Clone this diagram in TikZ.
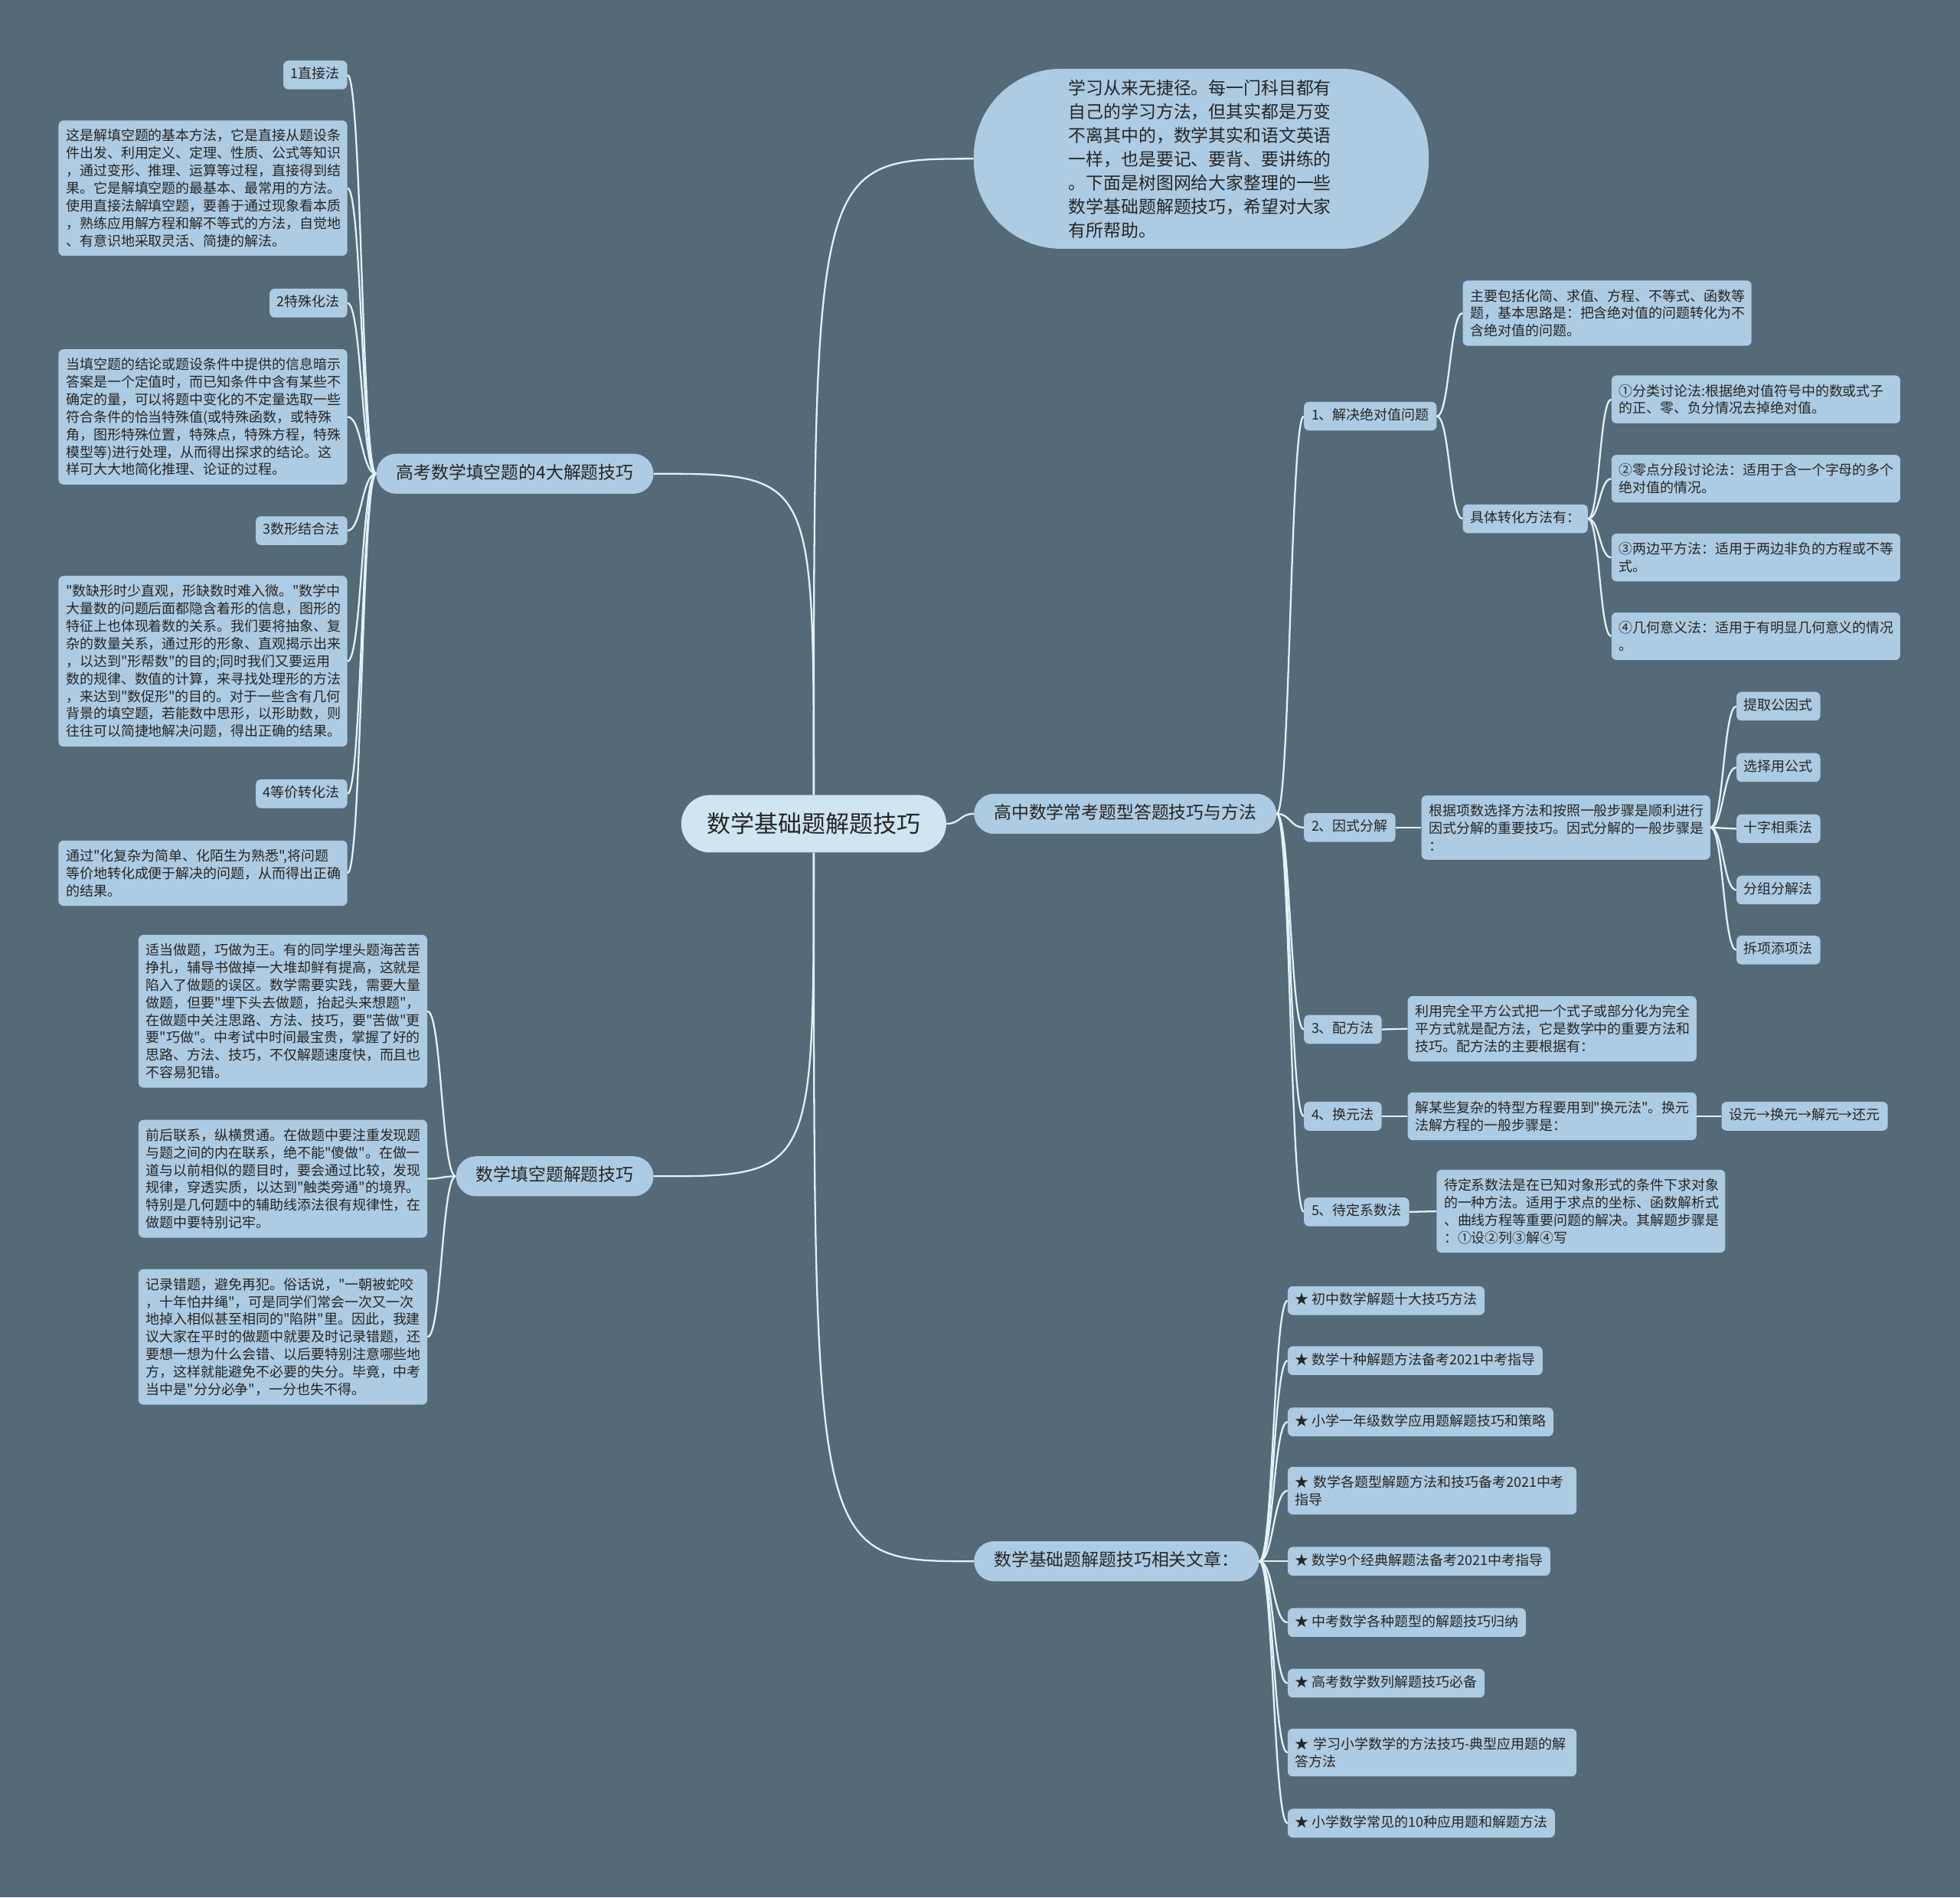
\documentclass[tikz,border=0pt]{standalone}
\usepackage{fontspec}
\setmainfont{Noto Sans CJK SC}[Ligatures=TeXOff]
\usetikzlibrary{calc}

\definecolor{bgcol}{HTML}{546A79}
\definecolor{boxcol}{HTML}{ADCBE2}
\definecolor{rootcol}{HTML}{CFE5F2}
\definecolor{linecol}{HTML}{E3F1F8}
\definecolor{txtcol}{HTML}{262626}

\newcommand{\sfs}{\fontsize{11}{14}\selectfont}
\newcommand{\mfs}{\fontsize{14}{19}\selectfont}
% curved connectors
\newcommand{\branch}[2]{\draw[link] (#1) .. controls ($(#1)!0.5!(#1 -| #2)$) and ($(#2)!0.5!(#2 -| #1)$) .. (#2);}
\newcommand{\stem}[2]{\draw[link] (#1) .. controls (#1 |- #2) and (#1 |- #2) .. (#2);}

\begin{document}
\begin{tikzpicture}[x=1pt, y=-1pt,
    link/.style={draw=linecol, line width=1.4pt},
    rootnode/.style={fill=rootcol, text=txtcol, rounded corners=23pt, minimum width=212pt, minimum height=46pt, font=\fontsize{19}{23}\selectfont},
    bubble/.style={fill=boxcol, text=txtcol, rounded corners=70pt, minimum width=364pt, minimum height=144pt, text width=212pt, align=left, font=\mfs},
    topic/.style={fill=boxcol, text=txtcol, rounded corners=16pt, minimum height=32pt, inner xsep=16pt, text height=11pt, text depth=3pt, font=\mfs},
    leaf/.style={fill=boxcol, text=txtcol, rounded corners=4pt, inner xsep=6pt, inner ysep=6pt, text height=8.5pt, text depth=2.5pt, font=\sfs},
    note/.style={fill=boxcol, text=txtcol, rounded corners=4pt, inner xsep=6pt, inner ysep=7pt, text width=219pt, align=left, font=\sfs}]

    \fill[bgcol] (0,0) rectangle (1568,1518);
    \useasboundingbox (0,0) rectangle (1568,1518);

    \node[rootnode] (root) at (651,659) {数学基础题解题技巧};

    \node[bubble] (intro) at (961,127) {学习从来无捷径。每一门科目都有\\自己的学习方法，但其实都是万变\\不离其中的，数学其实和语文英语\\一样，也是要记、要背、要讲练的\\。下面是树图网给大家整理的一些\\数学基础题解题技巧，希望对大家\\有所帮助。};

    \node[topic, anchor=west] (hs) at (779,651) {高中数学常考题型答题技巧与方法};
    \node[topic, anchor=east] (gk) at (523,379) {高考数学填空题的4大解题技巧};
    \node[topic, anchor=east] (tk) at (523,941) {数学填空题解题技巧};
    \node[topic, anchor=west] (rel) at (779,1249) {数学基础题解题技巧相关文章：};

    % left, upper
    \node[leaf, anchor=east] (m1) at (278,60) {1直接法};
    \node[note, anchor=east] (d1) at (278,150.5) {这是解填空题的基本方法，它是直接从题设条\\件出发、利用定义、定理、性质、公式等知识\\，通过变形、推理、运算等过程，直接得到结\\果。它是解填空题的最基本、最常用的方法。\\使用直接法解填空题，要善于通过现象看本质\\，熟练应用解方程和解不等式的方法，自觉地\\、有意识地采取灵活、简捷的解法。};
    \node[leaf, anchor=east] (m2) at (278,242.5) {2特殊化法};
    \node[note, anchor=east] (d2) at (278,333.5) {当填空题的结论或题设条件中提供的信息暗示\\答案是一个定值时，而已知条件中含有某些不\\确定的量，可以将题中变化的不定量选取一些\\符合条件的恰当特殊值(或特殊函数，或特殊\\角，图形特殊位置，特殊点，特殊方程，特殊\\模型等)进行处理，从而得出探求的结论。这\\样可大大地简化推理、论证的过程。};
    \node[leaf, anchor=east] (m3) at (278,424.5) {3数形结合法};
    \node[note, anchor=east] (d3) at (278,529) {"数缺形时少直观，形缺数时难入微。"数学中\\大量数的问题后面都隐含着形的信息，图形的\\特征上也体现着数的关系。我们要将抽象、复\\杂的数量关系，通过形的形象、直观揭示出来\\，以达到"形帮数"的目的;同时我们又要运用\\数的规律、数值的计算，来寻找处理形的方法\\，来达到"数促形"的目的。对于一些含有几何\\背景的填空题，若能数中思形，以形助数，则\\往往可以简捷地解决问题，得出正确的结果。};
    \node[leaf, anchor=east] (m4) at (278,635) {4等价转化法};
    \node[note, anchor=east] (d4) at (278,698.5) {通过"化复杂为简单、化陌生为熟悉",将问题\\等价地转化成便于解决的问题，从而得出正确\\的结果。};

    % left, lower
    \node[note, anchor=east] (ta) at (342,809) {适当做题，巧做为王。有的同学埋头题海苦苦\\挣扎，辅导书做掉一大堆却鲜有提高，这就是\\陷入了做题的误区。数学需要实践，需要大量\\做题，但要"埋下头去做题，抬起头来想题"，\\在做题中关注思路、方法、技巧，要"苦做"更\\要"巧做"。中考试中时间最宝贵，掌握了好的\\思路、方法、技巧，不仅解题速度快，而且也\\不容易犯错。};
    \node[note, anchor=east] (tb) at (342,943) {前后联系，纵横贯通。在做题中要注重发现题\\与题之间的内在联系，绝不能"傻做"。在做一\\道与以前相似的题目时，要会通过比较，发现\\规律，穿透实质，以达到"触类旁通"的境界。\\特别是几何题中的辅助线添法很有规律性，在\\做题中要特别记牢。};
    \node[note, anchor=east] (tc) at (342,1069.5) {记录错题，避免再犯。俗话说，"一朝被蛇咬\\，十年怕井绳"，可是同学们常会一次又一次\\地掉入相似甚至相同的"陷阱"里。因此，我建\\议大家在平时的做题中就要及时记录错题，还\\要想一想为什么会错、以后要特别注意哪些地\\方，这样就能避免不必要的失分。毕竟，中考\\当中是"分分必争"，一分也失不得。};

    % right
    \node[leaf, anchor=west] (a1) at (1043,333) {1、解决绝对值问题};
    \node[note, anchor=west] (a1n) at (1170,250.5) {主要包括化简、求值、方程、不等式、函数等\\题，基本思路是：把含绝对值的问题转化为不\\含绝对值的问题。};
    \node[leaf, anchor=west] (a1k) at (1170,415) {具体转化方法有：};
    \node[note, anchor=west] (c1) at (1289,319.5) {①分类讨论法:根据绝对值符号中的数或式子\\的正、零、负分情况去掉绝对值。};
    \node[note, anchor=west] (c2) at (1289,383) {②零点分段讨论法：适用于含一个字母的多个\\绝对值的情况。};
    \node[note, anchor=west] (c3) at (1289,446) {③两边平方法：适用于两边非负的方程或不等\\式。};
    \node[note, anchor=west] (c4) at (1289,509) {④几何意义法：适用于有明显几何意义的情况\\。};

    \node[leaf, anchor=west] (f1) at (1043,662) {2、因式分解};
    \node[note, anchor=west] (f1n) at (1137,662) {根据项数选择方法和按照一般步骤是顺利进行\\因式分解的重要技巧。因式分解的一般步骤是\\：};
    \node[leaf, anchor=west] (g1) at (1389,565) {提取公因式};
    \node[leaf, anchor=west] (g2) at (1389,614) {选择用公式};
    \node[leaf, anchor=west] (g3) at (1389,663) {十字相乘法};
    \node[leaf, anchor=west] (g4) at (1389,712) {分组分解法};
    \node[leaf, anchor=west] (g5) at (1389,760) {拆项添项法};

    \node[leaf, anchor=west] (p1) at (1043,823.5) {3、配方法};
    \node[note, anchor=west] (p1n) at (1126,823) {利用完全平方公式把一个式子或部分化为完全\\平方式就是配方法，它是数学中的重要方法和\\技巧。配方法的主要根据有：};

    \node[leaf, anchor=west] (h1) at (1043,893) {4、换元法};
    \node[note, anchor=west] (h1n) at (1126,893) {解某些复杂的特型方程要用到"换元法"。换元\\法解方程的一般步骤是：};
    \node[leaf, anchor=west] (h1s) at (1377,893) {设元→换元→解元→还元};

    \node[leaf, anchor=west] (u1) at (1043,969.5) {5、待定系数法};
    \node[note, anchor=west] (u1n) at (1149,969) {待定系数法是在已知对象形式的条件下求对象\\的一种方法。适用于求点的坐标、函数解析式\\、曲线方程等重要问题的解决。其解题步骤是\\：①设②列③解④写};

    % related articles
    \node[leaf, anchor=west] (r1) at (1030,1040.5) {★ 初中数学解题十大技巧方法};
    \node[leaf, anchor=west] (r2) at (1030,1088.5) {★ 数学十种解题方法备考2021中考指导};
    \node[leaf, anchor=west] (r3) at (1030,1137.5) {★ 小学一年级数学应用题解题技巧和策略};
    \node[note, anchor=west] (r4) at (1030,1192.5) {★ 数学各题型解题方法和技巧备考2021中考\\指导};
    \node[leaf, anchor=west] (r5) at (1030,1249) {★ 数学9个经典解题法备考2021中考指导};
    \node[leaf, anchor=west] (r6) at (1030,1298) {★ 中考数学各种题型的解题技巧归纳};
    \node[leaf, anchor=west] (r7) at (1030,1346.5) {★ 高考数学数列解题技巧必备};
    \node[note, anchor=west] (r8) at (1030,1402) {★ 学习小学数学的方法技巧-典型应用题的解\\答方法};
    \node[leaf, anchor=west] (r9) at (1030,1458.5) {★ 小学数学常见的10种应用题和解题方法};

    % connectors
    \stem{root.north}{intro.west}
    \stem{root.north}{gk.east}
    \stem{root.south}{tk.east}
    \stem{root.south}{rel.west}
    \branch{root.east}{hs.west}
    \foreach \c in {m1,d1,m2,d2,m3,d3,m4,d4} {\branch{gk.west}{\c.east}}
    \foreach \c in {ta,tb,tc} {\branch{tk.west}{\c.east}}
    \foreach \c in {a1,f1,p1,h1,u1} {\branch{hs.east}{\c.west}}
    \foreach \c in {a1n,a1k} {\branch{a1.east}{\c.west}}
    \foreach \c in {c1,c2,c3,c4} {\branch{a1k.east}{\c.west}}
    \branch{f1.east}{f1n.west}
    \foreach \c in {g1,g2,g3,g4,g5} {\branch{f1n.east}{\c.west}}
    \branch{p1.east}{p1n.west}
    \branch{h1.east}{h1n.west}
    \branch{h1n.east}{h1s.west}
    \branch{u1.east}{u1n.west}
    \foreach \c in {r1,r2,r3,r4,r5,r6,r7,r8,r9} {\branch{rel.east}{\c.west}}
\end{tikzpicture}
\end{document}
